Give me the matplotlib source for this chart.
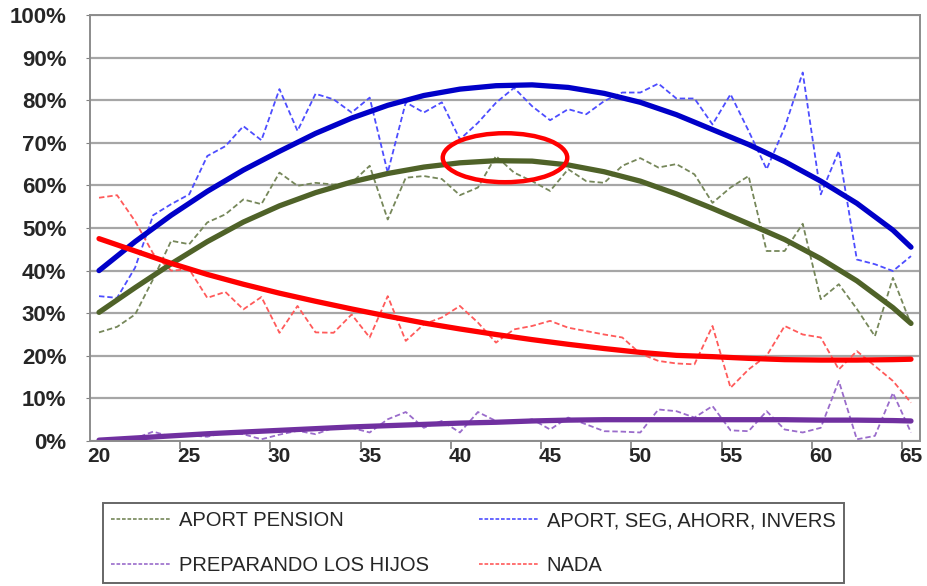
import numpy as np
import matplotlib
matplotlib.use('Agg')
import matplotlib.pyplot as plt
from matplotlib.patches import Ellipse
from matplotlib.lines import Line2D

plt.rcParams['font.family'] = ['Liberation Sans', 'DejaVu Sans']

# edades 20..65
edades = np.arange(20, 66)

aport_pension = [25.5, 26.8, 29.7, 38.0, 47.0, 46.2, 51.3, 53.2, 56.7, 55.6,
                 63.0, 59.9, 60.6, 60.2, 60.6, 64.6, 52.0, 61.8, 62.2, 61.5,
                 57.7, 59.5, 66.9, 63.0, 61.0, 58.7, 63.8, 61.0, 60.6, 64.6,
                 66.4, 64.2, 65.0, 62.6, 55.9, 59.5, 62.2, 44.6, 44.6, 51.0,
                 33.3, 36.8, 31.0, 24.6, 38.3, 27.4]
aport_seg = [34.0, 33.6, 40.7, 53.0, 55.6, 57.9, 66.9, 69.2, 73.9, 70.6,
             82.6, 72.8, 81.5, 80.2, 77.1, 80.6, 63.0, 79.5, 77.1, 79.5,
             70.8, 74.7, 79.4, 82.9, 78.6, 75.3, 77.9, 76.7, 79.8, 81.8,
             81.8, 83.9, 80.4, 80.4, 74.3, 81.4, 72.8, 63.8, 73.6, 86.5,
             57.9, 68.1, 42.6, 41.5, 39.9, 43.4]
preparando = [0.0, 0.3, 0.6, 2.2, 1.0, 1.3, 1.0, 2.0, 1.6, 0.4,
              1.5, 2.4, 1.6, 3.1, 3.1, 2.0, 5.1, 6.8, 3.1, 4.7,
              2.0, 6.8, 4.7, 4.3, 5.1, 2.7, 5.5, 3.9, 2.3, 2.2,
              2.0, 7.4, 7.0, 5.5, 8.2, 2.5, 2.3, 7.0, 2.7, 2.0,
              3.1, 14.1, 0.4, 1.2, 11.3, 2.0]
nada = [57.1, 57.7, 51.6, 44.0, 40.0, 40.3, 33.6, 35.0, 30.9, 33.8,
        25.4, 31.7, 25.5, 25.4, 29.7, 24.3, 34.0, 23.5, 27.4, 29.0,
        31.7, 27.8, 23.1, 26.2, 27.0, 28.2, 26.6, 25.8, 25.0, 24.3,
        20.5, 18.8, 18.2, 18.0, 27.0, 12.5, 16.8, 20.0, 27.0, 25.0,
        24.3, 16.8, 21.1, 17.6, 14.1, 9.0]

# lineas de tendencia
edades_tend = [20, 22, 24, 26, 28, 30, 32, 34, 36, 38, 40, 42,
               44, 46, 48, 50, 52, 54, 56, 58, 60, 62, 64, 65]
tend_pension = [30.2, 36.0, 41.6, 46.8, 51.4, 55.2, 58.3, 60.8, 62.8, 64.3, 65.3, 65.8,
                65.7, 64.8, 63.2, 61.0, 58.0, 54.6, 51.0, 47.3, 42.8, 37.6, 31.3, 27.6]
tend_seg = [40.0, 46.8, 53.0, 58.6, 63.6, 68.0, 72.2, 75.8, 78.8, 81.1, 82.6, 83.4,
            83.6, 83.0, 81.6, 79.5, 76.6, 73.1, 69.6, 65.6, 61.0, 55.8, 49.5, 45.5]
tend_preparando = [0.2, 0.7, 1.2, 1.7, 2.1, 2.5, 2.9, 3.3, 3.6, 3.9, 4.2, 4.4,
                   4.7, 4.9, 5.0, 5.0, 5.0, 5.0, 5.0, 5.0, 4.9, 4.9, 4.8, 4.7]
tend_nada = [47.5, 44.6, 41.7, 39.1, 36.8, 34.7, 32.8, 31.0, 29.3, 27.7, 26.3, 25.0,
             23.8, 22.7, 21.7, 20.8, 20.1, 19.8, 19.4, 19.1, 19.0, 19.0, 19.1, 19.2]

etiquetas = ['APORT PENSION', 'PREPARANDO LOS HIJOS', 'APORT, SEG, AHORR, INVERS', 'NADA']

c_pension, c_pension_l = '#4F6228', '#76875A'
c_seg, c_seg_l = '#0000C8', '#4D4DFF'
c_prep, c_prep_l = '#7030A0', '#9A6CCB'
c_nada, c_nada_l = '#FF0000', '#FF5A5A'

fig = plt.figure(figsize=(9.27, 5.86), dpi=100)
ax = fig.add_axes([90/927, 1-441/586, 830/927, 426/586])

pct = lambda v: np.array(v) / 100.0
dash = (3, 1.6)

ax.plot(edades, pct(aport_pension), color=c_pension_l, lw=1.3, dashes=dash)
ax.plot(edades, pct(aport_seg), color=c_seg_l, lw=1.3, dashes=dash)
ax.plot(edades, pct(preparando), color=c_prep_l, lw=1.3, dashes=dash)
ax.plot(edades, pct(nada), color=c_nada_l, lw=1.3, dashes=dash)

ax.plot(edades_tend, pct(tend_seg), color=c_seg, lw=3.8, solid_capstyle='round')
ax.plot(edades_tend, pct(tend_pension), color=c_pension, lw=3.8, solid_capstyle='round')
ax.plot(edades_tend, pct(tend_nada), color=c_nada, lw=3.8, solid_capstyle='round')
ax.plot(edades_tend, pct(tend_preparando), color=c_prep, lw=3.8, solid_capstyle='round')

ax.add_patch(Ellipse((42.5, 0.665), 6.9, 0.115, fill=False, edgecolor='red', lw=3.2, zorder=5))

ax.set_xlim(19.5, 65.5)
ax.set_ylim(0, 1.0)
ax.set_xticks(range(20, 66, 5))
ax.set_xticks(np.arange(24.5, 65, 5), minor=True)
ax.set_yticks(np.arange(0, 1.01, 0.1))
ax.set_yticklabels([f'{int(round(v*100))}%' for v in np.arange(0, 1.01, 0.1)])
ax.tick_params(axis='x', which='major', length=0, pad=4, labelsize=15)
ax.tick_params(axis='x', which='minor', length=6, color='#808080', width=1.2)
ax.tick_params(axis='y', length=3, color='#808080', pad=14, labelsize=16)
for lab in ax.get_xticklabels() + ax.get_yticklabels():
    lab.set_fontweight('bold')
    lab.set_color('#262626')
ax.grid(True, axis='y', color='#A6A6A6', lw=1.6)
ax.set_axisbelow(True)
for s in ax.spines.values():
    s.set_color('#8C8C8C')
    s.set_linewidth(1.4)

handles = [Line2D([], [], color=c, lw=1.2, dashes=(2.2, 1.1))
           for c in [c_pension_l, c_prep_l, c_seg_l, c_nada_l]]
leg = fig.legend(handles, etiquetas, ncol=2, loc='upper left',
                 bbox_to_anchor=(103/927, 1-503/586),
                 fontsize=14.5, frameon=True, fancybox=False, handlelength=2.9,
                 handletextpad=0.45, labelspacing=1.25, borderpad=0.42,
                 columnspacing=2.5, borderaxespad=0)
leg.get_frame().set_edgecolor('#404040')
leg.get_frame().set_linewidth(1.4)
for t in leg.get_texts():
    t.set_color('#262626')

fig.savefig('out.png', dpi=100)
